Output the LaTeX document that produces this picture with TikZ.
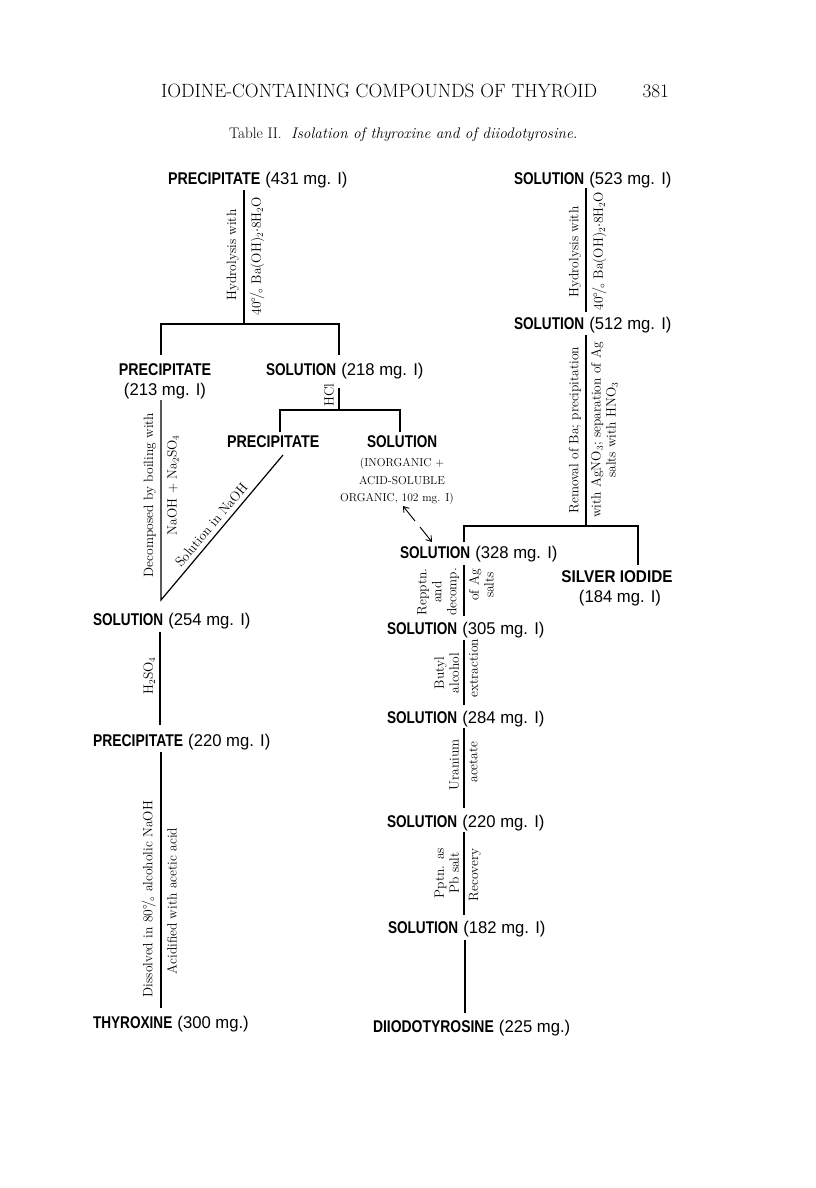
\documentclass[tikz,border=0pt]{standalone}
\usepackage{fontspec}
\usepackage{graphicx}
\newfontfamily\capf{Liberation Sans}
\usetikzlibrary{arrows.meta}
\newcommand\cw[2]{\scalebox{#1}[1]{\capf\bfseries #2}}
\newcommand\pw[1]{\scalebox{0.98}[1]{\capf #1}}
\newcommand\cpd[3]{\cw{#1}{#2}\ \pw{#3}}
\newcommand\pcto{$^{\circ}\!/_{\!\circ}$}
\newcommand\rfont{\fontsize{13.5}{15}\selectfont}
\begin{document}
\begin{tikzpicture}[x=1pt,y=-1pt,
  every node/.style={inner sep=0pt, outer sep=0pt},
  lab/.style={font=\fontsize{17}{20}\selectfont, anchor=base west},
  labm/.style={font=\fontsize{17}{20}\selectfont, anchor=base},
  rl/.style={font=\rfont, rotate=90, anchor=south, inner sep=2pt, align=center},
  rr/.style={font=\rfont, rotate=90, anchor=north, inner sep=2pt, align=center},
  ln/.style={line width=1.2pt},
  arr/.style={line width=0.9pt, -{Straight Barb[length=5pt,width=7pt]}},
]
\useasboundingbox (0,0) rectangle (816,1188);
\fill[white] (0,0) rectangle (816,1188);

% header and caption
\node[anchor=base west, font=\fontsize{19.2}{21}\selectfont] (hd) at (161,98) {IODINE-CONTAINING COMPOUNDS OF THYROID};
\node[anchor=base east, font=\fontsize{19.2}{21}\selectfont] (pg) at (669,98) {381};
\node[anchor=base west, font=\fontsize{15.3}{17}\selectfont] (cap) at (229,139) {Table II.\ \ \textit{Isolation of thyroxine and of diiodotyrosine.}};

% compound nodes
\node[lab] (p431) at (168,184) {\cpd{0.84}{PRECIPITATE}{(431 mg. I)}};
\node[lab] (s523) at (514,184) {\cpd{0.8}{SOLUTION}{(523 mg. I)}};
\node[lab] (s512) at (514,329) {\cpd{0.8}{SOLUTION}{(512 mg. I)}};
\node[labm] (p213) at (165,375) {\cw{0.84}{PRECIPITATE}};
\node[labm] (p213b) at (165,395) {\pw{(213 mg. I)}};
\node[lab] (s218) at (266,375) {\cpd{0.8}{SOLUTION}{(218 mg. I)}};
\node[lab] (pr2) at (227,447) {\cw{0.84}{PRECIPITATE}};
\node[lab] (s102) at (367,447) {\cw{0.8}{SOLUTION}};
\node[anchor=base, font=\fontsize{11.5}{13}\selectfont] (s102a) at (402,466) {(INORGANIC +};
\node[anchor=base, font=\fontsize{11.5}{13}\selectfont] (s102b) at (402,484) {ACID-SOLUBLE};
\node[anchor=base, font=\fontsize{11.5}{13}\selectfont] (s102c) at (397,501) {ORGANIC, 102 mg. I)};
\node[lab] (s328) at (400,558) {\cpd{0.8}{SOLUTION}{(328 mg. I)}};
\node[labm] (ag) at (617,582) {\cw{0.9}{SILVER IODIDE}};
\node[labm] (agb) at (620,602) {\pw{(184 mg. I)}};
\node[lab] (s254) at (93,625) {\cpd{0.8}{SOLUTION}{(254 mg. I)}};
\node[lab] (p220) at (93,746) {\cpd{0.82}{PRECIPITATE}{(220 mg. I)}};
\node[lab] (thy) at (93,1028) {\cpd{0.8}{THYROXINE}{(300 mg.)}};
\node[lab] (s305) at (387,634) {\cpd{0.8}{SOLUTION}{(305 mg. I)}};
\node[lab] (s284) at (387,723) {\cpd{0.8}{SOLUTION}{(284 mg. I)}};
\node[lab] (s220) at (387,827) {\cpd{0.8}{SOLUTION}{(220 mg. I)}};
\node[lab] (s182) at (388,933) {\cpd{0.8}{SOLUTION}{(182 mg. I)}};
\node[lab] (dit) at (373,1032) {\cpd{0.82}{DIIODOTYROSINE}{(225 mg.)}};

% connector coordinates
\coordinate (a0) at (244,190); \coordinate (a1) at (244,324);
\coordinate (aL) at (161,324); \coordinate (aR) at (339,324);
\coordinate (aL2) at (161,355); \coordinate (aR2) at (339,355);
\coordinate (b0) at (586,188); \coordinate (b1) at (586,312);
\coordinate (c0) at (586,335); \coordinate (c1) at (586,526);
\coordinate (cL) at (464,526); \coordinate (cR) at (638,526);
\coordinate (cL2) at (464,542); \coordinate (cR2) at (638,565);
\coordinate (h0) at (339,388); \coordinate (h1) at (339,410);
\coordinate (hL) at (280,410); \coordinate (hR) at (400,410);
\coordinate (hL2) at (280,432); \coordinate (hR2) at (400,432);
\coordinate (d0) at (161,400); \coordinate (d1) at (161,600); \coordinate (d2) at (283,455);
\coordinate (e0) at (160,632); \coordinate (e1) at (160,725);
\coordinate (f0) at (161,752); \coordinate (f1) at (161,1008);
\coordinate (g0) at (464,565); \coordinate (g1) at (464,616);
\coordinate (i0) at (464,640); \coordinate (i1) at (464,705);
\coordinate (j0) at (464,728); \coordinate (j1) at (464,808);
\coordinate (k0) at (464,832); \coordinate (k1) at (464,915);
\coordinate (m0) at (465,940); \coordinate (m1) at (465,1013);
\coordinate (q0) at (403,506); \coordinate (q1) at (415,521);
\coordinate (q2) at (420,527); \coordinate (q3) at (432,542);

\draw[ln] (a0) -- (a1);
\draw[ln] (aL2) -- (aL) -- (aR) -- (aR2);
\draw[ln] (b0) -- (b1);
\draw[ln] (c0) -- (c1);
\draw[ln] (cL2) -- (cL) -- (cR) -- (cR2);
\draw[ln] (h0) -- (h1);
\draw[ln] (hL2) -- (hL) -- (hR) -- (hR2);
\draw[ln] (d0) -- (d1) -- (d2);
\draw[ln] (e0) -- (e1);
\draw[ln] (f0) -- (f1);
\draw[ln] (g0) -- (g1);
\draw[ln] (i0) -- (i1);
\draw[ln] (j0) -- (j1);
\draw[ln] (k0) -- (k1);
\draw[ln] (m0) -- (m1);
\draw[arr] (q1) -- (q0);
\draw[arr] (q2) -- (q3);

% reagent labels
\node[rl] (t1) at (241,255) {Hydrolysis with};
\node[rr] (t2) at (248,256) {40\pcto\ Ba(OH)$_2\cdot$8H$_2$O};
\node[rl] (t3) at (583,252) {Hydrolysis with};
\node[rr] (t4) at (590,251) {40\pcto\ Ba(OH)$_2\cdot$8H$_2$O};
\node[rl] (t5) at (583,430) {Removal of Ba; precipitation};
\node[rr] (t6) at (589,430) {with AgNO$_3$; separation of Ag\\salts with HNO$_3$};
\node[rl] (t7) at (336,395) {HCl};
\node[rl] (t8) at (158,495) {Decomposed by boiling with};
\node[rr] (t9) at (165,485) {NaOH + Na$_2$SO$_4$};
\path (d1) -- (d2) node[pos=0.475, sloped, above=5pt, font=\rfont] (t10) {Solution in NaOH};
\node[rl] (t11) at (157,676) {H$_2$SO$_4$};
\node[rl] (t12) at (158,899) {Dissolved in 80\pcto\ alcoholic NaOH};
\node[rr] (t13) at (165,901) {Acidified with acetic acid};
\node[rl] (t14) at (461,592) {Repptn.\\and\\decomp.};
\node[rr] (t15) at (467,585) {of Ag\\salts};
\node[rl] (t16) at (461,673) {Butyl\\alcohol};
\node[rr] (t17) at (467,668) {extraction};
\node[rl] (t18) at (461,765) {Uranium};
\node[rr] (t19) at (467,762) {acetate};
\node[rl] (t20) at (461,873) {Pptn. as\\Pb salt};
\node[rr] (t21) at (467,875) {Recovery};
\end{tikzpicture}
\end{document}
